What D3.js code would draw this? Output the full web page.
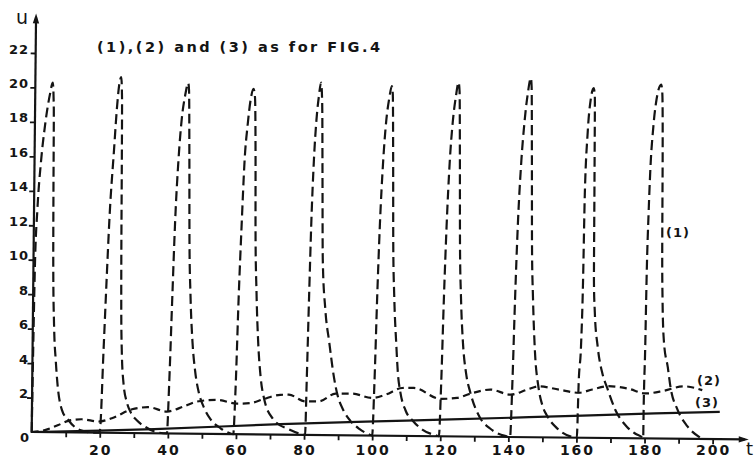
<!DOCTYPE html>
<html><head><meta charset="utf-8">
<script src="https://cdn.jsdelivr.net/npm/d3@7"></script>
<style>body{margin:0;background:#fff}svg{display:block}</style>
</head><body>
<svg id="chart" width="756" height="459"></svg>
<script>
// ---- data (t, u) ----
const series1 = [
  [0,0],[0.15,4],[0.47,10.1],[0.97,12.85],[1.94,15.8],[2.94,17.75],[4.4,19.7],[5.1,20.3],[5.5,18.75],[5.65,13.9],[5.8,10.05],[6.25,6.15],[6.85,4.15],[7.4,2.85],[8.8,1.3],[10.7,0.72],[14.2,0.14],[18.6,0],
  [19.8,0],[20.05,0.15],[20.85,4.8],[21.5,8.7],[22.2,12.55],[23.3,16.4],[24.0,18.75],[24.6,20.15],[25.2,20.65],[25.5,19.45],[25.65,15.2],[25.75,11.15],[25.9,7.6],[26.2,4.8],[26.8,2.9],[27.9,1.75],[29.1,1.17],[30.9,0.73],[33.3,0.37],[36.8,0.06],
  [39.7,0],[40.25,3.05],[40.9,8.1],[41.45,12.15],[42.3,16.0],[43.1,18.25],[44.05,19.65],[44.9,20.35],[45.15,19.95],[45.45,16.2],[45.75,11.15],[46.2,8.1],[46.95,5.3],[47.8,3.65],[49.0,2.35],[50.45,1.55],[52.5,0.84],[55.45,0.33],[58.25,0.04],
  [59.2,0],[59.7,2.4],[60.4,8.2],[61.0,12.05],[61.7,15.95],[62.45,17.9],[63.3,19.45],[64.1,20.05],[64.55,19.55],[64.9,15.95],[65.1,12.05],[65.6,8.2],[66.25,5.3],[67.05,3.35],[68.2,2.03],[70.9,0.89],[71.95,0.67],[75.3,0.33],[78.8,0.06],
  [80.3,0],[80.6,3.05],[81.05,8.1],[81.45,12.15],[82.05,16.0],[82.65,18.25],[83.3,19.65],[83.9,20.45],[84.3,19.25],[84.6,15.2],[84.95,10.2],[85.85,7.3],[87.1,5.4],[88.6,3.35],[89.6,2.4],[91.5,1.44],[93.55,0.84],[96.2,0.38],[99.15,0.06],
  [100.0,0],[100.5,3.05],[101.05,8.1],[101.6,12.15],[102.4,16.0],[103.15,18.25],[103.95,19.55],[104.7,20.3],[105.0,19.85],[105.3,16.2],[105.6,11.15],[106.05,8.1],[106.8,5.3],[107.35,3.65],[108.15,2.52],[109.7,1.49],[112.0,0.86],[114.7,0.38],[118.5,0.06],
  [119.6,0],[120.1,3.05],[120.65,8.1],[121.2,12.15],[121.95,16.0],[122.7,18.25],[123.55,19.75],[124.3,20.55],[124.6,20.05],[124.9,16.2],[125.2,11.15],[125.65,8.1],[126.35,5.5],[127.4,3.65],[128.7,2.55],[131.65,1.09],[134.6,0.48],[139.0,0.06],
  [140.5,0],[141.0,3.05],[141.55,8.1],[142.1,12.15],[142.95,16.0],[143.75,18.25],[144.65,19.95],[145.5,20.85],[145.75,20.35],[146.05,16.2],[146.35,11.15],[146.8,8.1],[147.5,5.1],[148.7,2.89],[149.9,1.85],[151.35,1.24],[154.3,0.53],[158.4,0.06],
  [160.1,0],[160.5,3.35],[161.05,5.3],[161.45,9.1],[161.7,14.15],[162.35,17.7],[163.15,19.65],[164.0,20.3],[164.35,19.75],[164.5,15.0],[164.65,9.1],[165.0,7.3],[165.95,5.3],[167.4,3.75],[168.85,2.92],[171.3,1.65],[174.75,0.67],[177.2,0.28],[179.4,0.04],
  [179.6,0],[179.65,2.05],[179.9,5.1],[180.1,9.2],[180.5,13.15],[180.85,15.5],[181.6,18.05],[182.45,19.65],[183.8,20.55],[184.15,20.05],[184.45,16.2],[184.6,11.15],[184.85,8.1],[185.4,5.6],[186.6,4.15],[187.5,2.95],[189.55,1.7],[192.5,0.74],[196.3,0.08]
];
const series2 = [
  [0,0],[3.9,0.12],[7.8,0.42],[10.7,0.67],[14.7,0.77],[19.6,0.65],[23.5,0.85],[29.4,1.38],[34.2,1.51],[39.6,1.27],[44.5,1.57],[48.5,1.87],[54.3,1.98],[60.2,1.77],[64.1,1.81],[68.0,2.05],[72.9,2.31],[75.4,2.32],[80.3,1.94],[84.2,1.95],[89.1,2.41],[94.0,2.42],[99.9,2.18],[103.8,2.38],[108.7,2.78],[112.1,2.79],[119.9,2.17],[124.8,2.24],[128.7,2.49],[134.6,2.74],[140.5,2.46],[145.4,2.76],[148.8,2.96],[154.7,2.78],[160.5,2.61],[164.5,2.81],[169.3,3.01],[175.2,2.87],[180.1,2.61],[185.4,2.77],[191.3,3.05],[196.8,2.84]
];
const series3 = [[0,0],[20,0.12],[36,0.24],[73,0.61],[110,0.89],[146,1.16],[183,1.46],[202,1.59]];
const xTickLabels = [20,40,60,80,100,120,140,160,180,200];
const xTickMarks = [10,20,30,40,50,60,70,80,90,100,110,120,130,140,150,160,170,180,190,200];
const yTickLabels = [2,4,6,8,10,12,14,16,18,20,22];
const curveNames = ["(1)","(2)","(3)"];
const title = "(1),(2) and (3) as for FIG.4";

// ---- drawing ----
const ink = "#141414";
const font = "'DejaVu Sans', 'Liberation Sans', sans-serif";
const svg = d3.select("#chart");
svg.append("rect").attr("width",756).attr("height",459).attr("fill","#fff");

const x = d3.scaleLinear().domain([0,200]).range([31.7,712.7]);
const y = d3.scaleLinear().domain([0,22]).range([432,53]);

// the scanned drawing is slightly rotated; lettering is level
const g = svg.append("g").attr("transform",`rotate(0.6,${x(0)},${y(0)})`);

// tick marks
const ax = g.append("g").attr("transform",`translate(0,${y(0)})`)
  .call(d3.axisBottom(x).tickValues(xTickMarks).tickSize(5).tickSizeOuter(0).tickFormat(""));
ax.select(".domain").remove();
ax.selectAll("line").attr("stroke",ink).attr("stroke-width",1.8);
const ay = g.append("g").attr("transform",`translate(${x(0)},0)`)
  .call(d3.axisLeft(y).tickValues(yTickLabels).tickSize(5).tickSizeOuter(0).tickFormat(""));
ay.select(".domain").remove();
ay.selectAll("line").attr("stroke",ink).attr("stroke-width",1.8);

// axis lines with arrows
const xEnd = x(210.6), yEnd = y(24.3);
g.append("line").attr("x1",x(0)).attr("x2",xEnd-4).attr("y1",y(0)).attr("y2",y(0))
  .attr("stroke",ink).attr("stroke-width",2.2);
g.append("line").attr("x1",x(0)).attr("x2",x(0)).attr("y1",y(0)+1).attr("y2",yEnd+4)
  .attr("stroke",ink).attr("stroke-width",2.2);
g.append("path").attr("d",`M${xEnd},${y(0)} l-10,-3.2 l0,6.4 Z`).attr("fill",ink);
g.append("path").attr("d",`M${x(0)},${yEnd} l-3.2,10 l6.4,0 Z`).attr("fill",ink);

// curves
const line = d3.line().x(d=>x(d[0])).y(d=>y(d[1])).curve(d3.curveMonotoneX);
g.append("path").datum(series3).attr("d",line).attr("fill","none")
  .attr("stroke",ink).attr("stroke-width",2.2);
g.append("path").datum(series2).attr("d",line).attr("fill","none")
  .attr("stroke",ink).attr("stroke-width",2.2).attr("stroke-dasharray","7,4.5");
g.append("path").datum(series1).attr("d",line).attr("fill","none")
  .attr("stroke",ink).attr("stroke-width",2.2).attr("stroke-dasharray","10,5");

// lettering (unrotated)
const t = svg.append("g").attr("fill",ink).attr("font-family",font).attr("font-weight","bold");
t.selectAll("text.xl").data(xTickLabels).join("text").attr("class","xl")
  .attr("x",d=>x(d)+1).attr("y",455).attr("text-anchor","middle")
  .attr("font-size",14).attr("letter-spacing",2).text(d=>d);
t.selectAll("text.yl").data(yTickLabels).join("text").attr("class","yl")
  .attr("x",29).attr("y",d=>y(d)+0.5).attr("text-anchor","end")
  .attr("font-size",13).attr("letter-spacing",1).text(d=>d);
t.append("text").attr("x",29).attr("y",442).attr("text-anchor","end").attr("font-size",13).text("0");
t.append("text").attr("x",97).attr("y",52).attr("font-size",14.5)
  .attr("textLength",283).attr("lengthAdjust","spacing").text(title);
t.append("text").attr("x",666).attr("y",237).attr("font-size",13).attr("letter-spacing",1).text(curveNames[0]);
t.append("text").attr("x",697).attr("y",384.5).attr("font-size",13).attr("letter-spacing",1).text(curveNames[1]);
t.append("text").attr("x",695).attr("y",406.5).attr("font-size",13).attr("letter-spacing",1).text(curveNames[2]);
t.append("text").attr("x",16).attr("y",24).attr("font-size",19).attr("font-weight","normal").text("u");
t.append("text").attr("x",746).attr("y",455).attr("font-size",18).attr("font-weight","normal").text("t");
</script>
</body></html>
